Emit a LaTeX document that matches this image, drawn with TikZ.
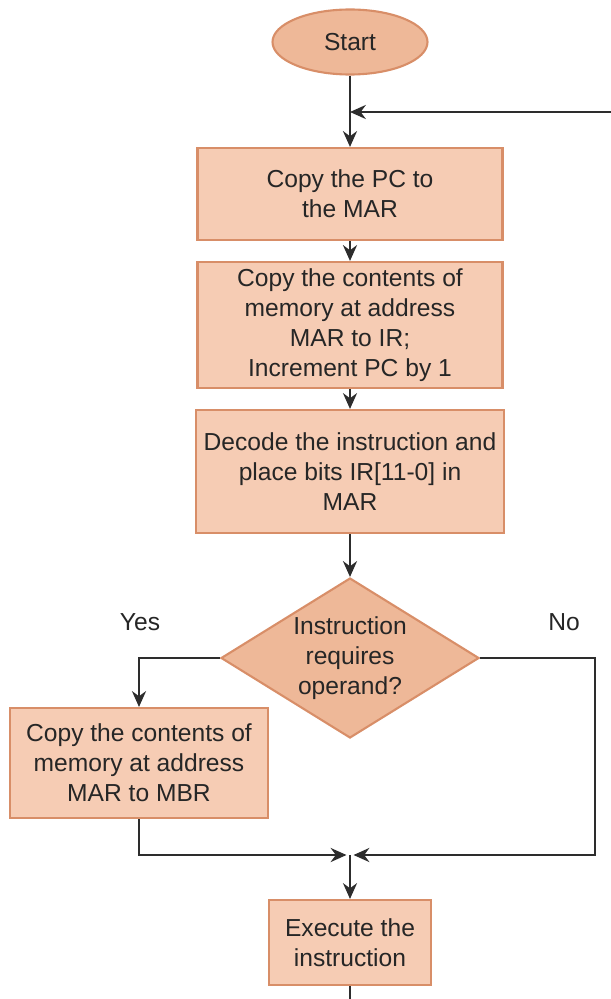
\documentclass[tikz,border=0pt]{standalone}
\usepackage{fontspec}
\setmainfont{Liberation Sans}
\usetikzlibrary{arrows.meta,shapes.geometric}
\definecolor{boxfill}{RGB}{246,204,180}
\definecolor{darkfill}{RGB}{238,184,152}
\definecolor{boxline}{RGB}{216,142,104}
\definecolor{wire}{RGB}{45,45,45}
\begin{document}
\begin{tikzpicture}[>={Stealth[length=9pt,width=8pt]},font=\fontsize{14}{17}\selectfont,
 cell/.style={draw=boxline,line width=1.2pt,fill=boxfill,align=center,inner sep=0pt,text=black!85},
 test/.style={diamond,draw=boxline,line width=1.2pt,fill=darkfill,align=center,inner sep=0pt,
   shape aspect=1.6,minimum width=5.16cm,minimum height=3.2cm,text=black!85},
 flow/.style={->,line width=1.3pt,draw=wire},
 lab/.style={font=\fontsize{14}{17}\selectfont,text=black!85}]
\useasboundingbox (0,0) rectangle (12.22,-19.98);
\node[cell,ellipse,fill=darkfill,minimum width=3.1cm,minimum height=1.3cm] (st) at (7.0,-0.84) {Start};
\node[cell,minimum width=6.1cm,minimum height=1.84cm] (pc) at (7.0,-3.88) {Copy the PC to\\the MAR};
\node[cell,minimum width=6.1cm,minimum height=2.52cm] (ir) at (7.0,-6.5) {Copy the contents of\\memory at address\\MAR to IR;\\Increment PC by 1};
\node[cell,minimum width=6.16cm,minimum height=2.46cm] (dc) at (7.0,-9.43) {Decode the instruction and\\place bits IR[11-0] in\\MAR};
\node[test] (op) at (7.0,-13.16) {Instruction\\requires\\operand?};
\node[cell,minimum width=5.16cm,minimum height=2.2cm] (mb) at (2.78,-15.26) {Copy the contents of\\memory at address\\MAR to MBR};
\node[cell,minimum width=3.24cm,minimum height=1.7cm] (ex) at (7.0,-18.85) {Execute the\\instruction};
\node[lab] (yes) at (2.8,-12.44) {Yes};
\node[lab] (no) at (11.28,-12.44) {No};
\coordinate (back) at (12.22,-2.24);
\coordinate (join) at (7.0,-17.1);
\coordinate (out) at (7.0,-19.98);
\draw[flow] (st) -- (pc);
\draw[flow] (back) -- (pc.north |- back);
\draw[flow] (pc) -- (ir);
\draw[flow] (ir) -- (dc);
\draw[flow] (dc) -- (op);
\draw[flow] (op.west) -| (mb.north);
\draw[flow] (mb.south) |- ([xshift=-2pt]join);
\draw[flow] (op.east) -- (11.9,-13.16) |- ([xshift=2pt]join);
\draw[flow] (join) -- (ex);
\draw[line width=1.3pt,draw=wire] (ex) -- (out);
\end{tikzpicture}
\end{document}
